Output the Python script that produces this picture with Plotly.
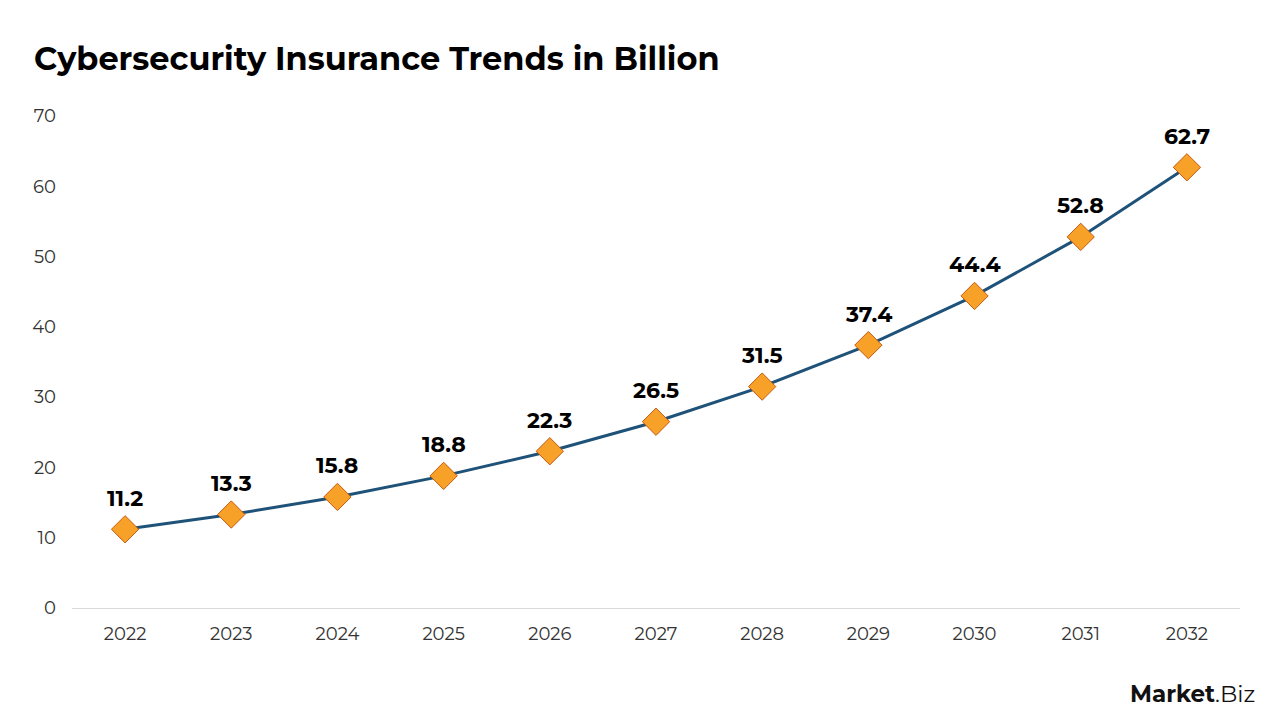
import plotly.graph_objects as go

years = ["2022", "2023", "2024", "2025", "2026", "2027", "2028", "2029", "2030", "2031", "2032"]
values = [11.2, 13.3, 15.8, 18.8, 22.3, 26.5, 31.5, 37.4, 44.4, 52.8, 62.7]
labels = [f"{v:.1f}" for v in values]
y_ticks = [0, 10, 20, 30, 40, 50, 60, 70]

FONT = "Montserrat, Lato, 'Open Sans', sans-serif"

fig = go.Figure()
fig.add_trace(go.Scatter(
    x=years, y=values, mode="lines+markers",
    line=dict(color="#1f5278", width=3),
    marker=dict(symbol="diamond", size=21, color="#f7a128",
                line=dict(color="#c55a11", width=1)),
    cliponaxis=False,
    hoverinfo="x+y",
))

for i, (v, lab) in enumerate(zip(values, labels)):
    fig.add_annotation(
        x=i, y=v, xref="x", yref="y", text=f"<b>{lab}</b>", showarrow=False,
        xanchor="center", yanchor="middle", yshift=31,
        font=dict(family=FONT, size=22, color="#000000"),
    )

fig.update_layout(
    width=1280, height=720,
    paper_bgcolor="white", plot_bgcolor="white",
    margin=dict(l=72, r=40, t=116, b=112),
    showlegend=False,
    font=dict(family=FONT, color="#333333"),
    title=dict(text="<b>Cybersecurity Insurance Trends in Billion</b>",
               x=34/1280, xanchor="left", y=1-59/720, yanchor="middle",
               font=dict(family=FONT, size=32, color="#000000")),
    xaxis=dict(type="category", range=[-0.5, 10.5], showgrid=False,
               showline=True, linecolor="#d9d9d9", linewidth=1,
               ticks="", tickfont=dict(size=18, color="#333333"),
               ticklabelstandoff=9),
    yaxis=dict(range=[0, 70], tickvals=y_ticks, showgrid=False,
               zeroline=False, showline=False, ticks="",
               tickfont=dict(size=18, color="#333333"),
               ticklabelstandoff=15),
)

fig.add_annotation(
    text="<b>Market</b>.Biz", xref="paper", yref="paper",
    x=1.0, y=0, xanchor="right", yanchor="top",
    xshift=17, yshift=-70,
    showarrow=False, font=dict(family=FONT, size=23, color="#111111"),
)

fig.write_html("out.html")
